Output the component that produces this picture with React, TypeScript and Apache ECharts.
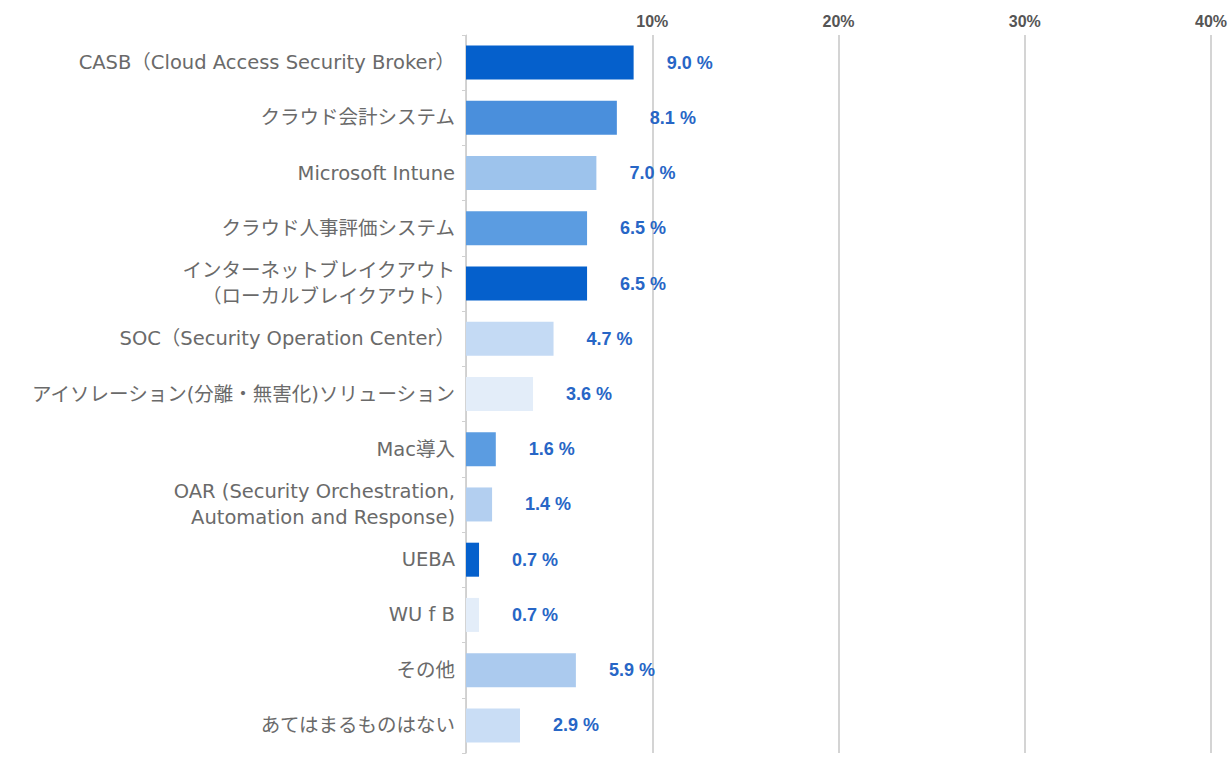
import React, { useEffect, useRef } from "react";
import * as echarts from "echarts";

const categories = [
  "CASB（Cloud Access Security Broker）",
  "クラウド会計システム",
  "Microsoft Intune",
  "クラウド人事評価システム",
  "インターネットブレイクアウト\n（ローカルブレイクアウト）",
  "SOC（Security Operation Center）",
  "アイソレーション(分離・無害化)ソリューション",
  "Mac導入",
  "OAR (Security Orchestration,\nAutomation and Response)",
  "UEBA",
  "WU f B",
  "その他",
  "あてはまるものはない",
];

const values = [9.0, 8.1, 7.0, 6.5, 6.5, 4.7, 3.6, 1.6, 1.4, 0.7, 0.7, 5.9, 2.9];

const barColors = [
  "#0560CC",
  "#4A8FDC",
  "#9DC3EC",
  "#5B9CE1",
  "#0560CC",
  "#C4DAF4",
  "#E3EDF9",
  "#5B9CE1",
  "#B3CFF0",
  "#0560CC",
  "#E3EDF9",
  "#ABCAEE",
  "#C9DDF5",
];

const xTicks = [0, 10, 20, 30, 40];

export default function App() {
  const ref = useRef<HTMLDivElement>(null);

  useEffect(() => {
    if (!ref.current) return;
    const chart = echarts.init(ref.current, null, { renderer: "svg" });
    chart.setOption({
      animation: false,
      backgroundColor: "#ffffff",
      grid: { left: 466, right: 21, top: 35, bottom: 7 },
      xAxis: {
        type: "value",
        position: "top",
        min: xTicks[0],
        max: xTicks[xTicks.length - 1],
        interval: 10,
        axisLine: { show: false },
        axisTick: { show: false },
        axisLabel: {
          formatter: (v: number) => (v === 0 ? "" : v + "%"),
          color: "#555555",
          fontSize: 16,
          fontWeight: "bold",
          fontFamily: "Liberation Sans, Arial, sans-serif",
          margin: 6,
        },
        splitLine: { show: true, lineStyle: { color: "#d4d4d4", width: 2 } },
      },
      yAxis: {
        type: "category",
        inverse: true,
        data: categories,
        axisLine: { show: true, lineStyle: { color: "#d0d0d0", width: 1 } },
        axisTick: { show: true, length: 4, lineStyle: { color: "#d0d0d0" } },
        axisLabel: {
          color: "#6a6a6a",
          fontSize: 19.5,
          lineHeight: 26,
          margin: 11,
          fontFamily: "DejaVu Sans, Noto Sans CJK JP, sans-serif",
        },
      },
      series: [
        {
          type: "bar",
          barWidth: 34,
          data: values.map((v, i) => ({
            value: v,
            itemStyle: { color: barColors[i] },
          })),
          label: {
            show: true,
            position: "right",
            distance: 33,
            formatter: (p: any) => p.value.toFixed(1) + " %",
            color: "#2766C6",
            fontSize: 18,
            fontWeight: "bold",
            fontFamily: "Liberation Sans, Arial, sans-serif",
          },
        },
      ],
    });
    return () => chart.dispose();
  }, []);

  return (
    <div
      ref={ref}
      style={{ width: 1232, height: 760, position: "absolute", left: 0, top: 0 }}
    />
  );
}
